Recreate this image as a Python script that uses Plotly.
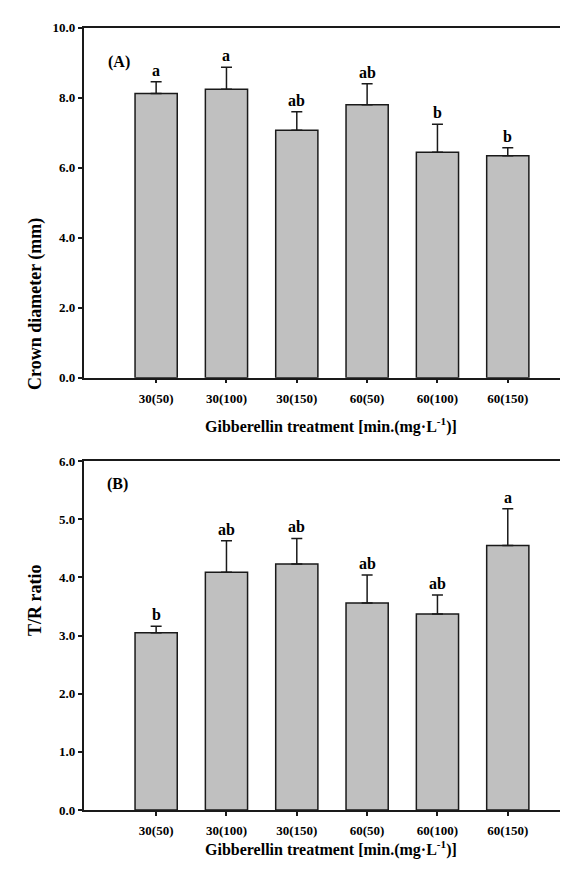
import plotly.graph_objects as go

categories = ["30(50)", "30(100)", "30(150)", "60(50)", "60(100)", "60(150)"]
crown_mean = [8.12, 8.24, 7.07, 7.80, 6.44, 6.34]
crown_se = [0.34, 0.63, 0.53, 0.60, 0.80, 0.23]
crown_letters = ["a", "a", "ab", "ab", "b", "b"]
tr_mean = [3.05, 4.09, 4.23, 3.56, 3.37, 4.55]
tr_se = [0.11, 0.54, 0.44, 0.48, 0.33, 0.63]
tr_letters = ["b", "ab", "ab", "ab", "ab", "a"]
crown_ticks = [0, 2, 4, 6, 8, 10]
tr_ticks = [0, 1, 2, 3, 4, 5, 6]

FONT = "Liberation Serif"
W, H = 568, 869

def py(px):
    return (H - px) / H

fig = go.Figure()
for mean, se, xa, ya in [(crown_mean, crown_se, "x", "y"), (tr_mean, tr_se, "x2", "y2")]:
    fig.add_trace(go.Bar(
        x=categories, y=mean, xaxis=xa, yaxis=ya, width=0.6,
        marker=dict(color="#c0c0c0", line=dict(color="#1a1a1a", width=1.5)),
        error_y=dict(type="data", symmetric=False, array=se, arrayminus=[0] * len(se),
                     color="#1a1a1a", thickness=1.5, width=5.5),
        showlegend=False, hoverinfo="skip",
    ))

axis_common = dict(showline=True, linecolor="#1a1a1a", linewidth=1.5, ticks="outside",
                   ticklen=4, tickwidth=1.5, tickcolor="#1a1a1a", showgrid=False, zeroline=False,
                   tickfont=dict(family=FONT, size=13, color="#000"))

left = 75.7 / W
bold_cats = [f"<b>{c}</b>" for c in categories]
fig.update_layout(
    width=W, height=H, margin=dict(l=0, r=0, t=0, b=0),
    paper_bgcolor="white", plot_bgcolor="white",
    xaxis=dict(domain=[left, 1], anchor="y", range=[-1.03, 5.97], mirror=True,
               tickvals=categories, ticktext=bold_cats, **axis_common),
    yaxis=dict(domain=[py(369), py(13)], anchor="x", range=[0, 10], tickvals=crown_ticks,
               ticktext=[f"<b>{v:.1f}</b>" for v in crown_ticks], **axis_common),
    xaxis2=dict(domain=[left, 1], anchor="y2", range=[-1.03, 5.97], mirror=True,
                tickvals=categories, ticktext=bold_cats, **axis_common),
    yaxis2=dict(domain=[py(809), py(454)], anchor="x2", range=[0, 6], tickvals=tr_ticks,
                ticktext=[f"<b>{v:.1f}</b>" for v in tr_ticks], **axis_common),
)
fig.update_xaxes(ticklabelstandoff=4)

ann = []
bold = dict(family=FONT, size=16, color="#000")
for c, m, s, l in zip(categories, crown_mean, crown_se, crown_letters):
    ann.append(dict(x=c, y=m + s, xref="x", yref="y", text=f"<b>{l}</b>", showarrow=False,
                    yanchor="bottom", yshift=1, font=bold))
for c, m, s, l in zip(categories, tr_mean, tr_se, tr_letters):
    ann.append(dict(x=c, y=m + s, xref="x2", yref="y2", text=f"<b>{l}</b>", showarrow=False,
                    yanchor="bottom", yshift=1, font=bold))
ytitle_font = dict(family=FONT, size=18, color="#000")
ann += [
    dict(x=98 / W, y=py(37), xref="paper", yref="paper", text="<b>(A)</b>", showarrow=False, font=bold),
    dict(x=97 / W, y=py(477), xref="paper", yref="paper", text="<b>(B)</b>", showarrow=False, font=bold),
    dict(x=323 / W, y=py(418), xref="paper", yref="paper", showarrow=False, font=bold,
         text="<b>Gibberellin treatment [min.(mg·L<sup>-1</sup>)]</b>"),
    dict(x=323 / W, y=py(861), xref="paper", yref="paper", showarrow=False, font=bold,
         text="<b>Gibberellin treatment [min.(mg·L<sup>-1</sup>)]</b>"),
    dict(x=15 / W, y=py(205), xref="paper", yref="paper", showarrow=False, font=ytitle_font,
         text="<b>Crown diameter (mm)</b>", textangle=-90),
    dict(x=15 / W, y=py(634), xref="paper", yref="paper", showarrow=False, font=ytitle_font,
         text="<b>T/R ratio</b>", textangle=-90),
]
fig.update_layout(annotations=ann)
fig.write_html("out.html")
